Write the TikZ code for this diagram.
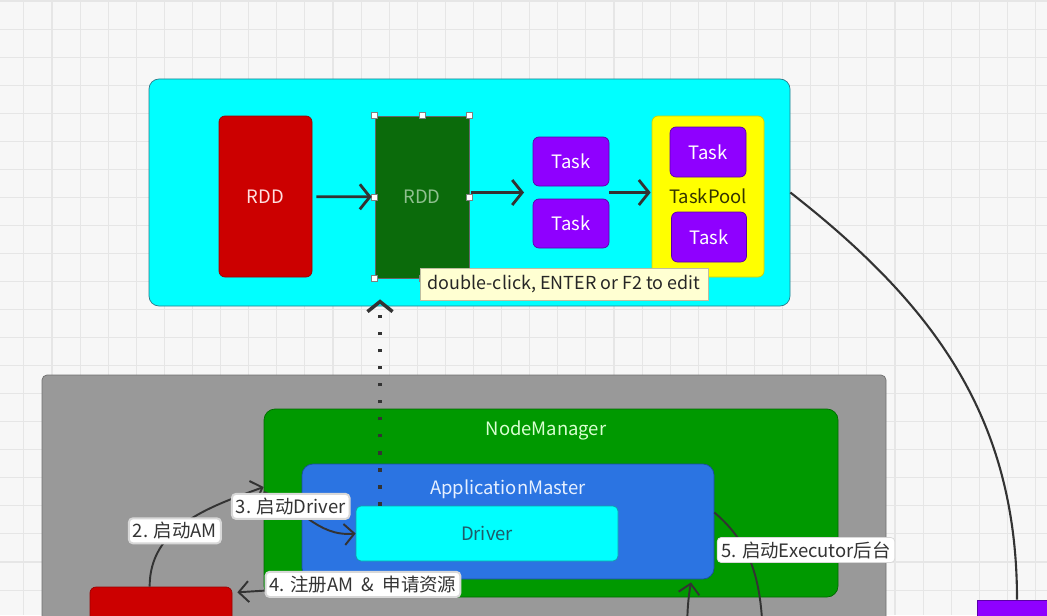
\documentclass[tikz,border=0pt]{standalone}
\usepackage{fontspec}
\setmainfont{Noto Sans CJK SC}
\usetikzlibrary{arrows.meta}
\definecolor{bggray}{HTML}{F7F7F7}
\definecolor{gridgray}{HTML}{E6E6E6}
\definecolor{stagecyan}{HTML}{00FFFF}
\definecolor{stageedge}{HTML}{2A7A8A}
\definecolor{rddred}{HTML}{CC0000}
\definecolor{rddedge}{HTML}{9A0000}
\definecolor{rddtext}{HTML}{FFE0E0}
\definecolor{rddgreen}{HTML}{0B6B0B}
\definecolor{rddgtext}{HTML}{8FC08F}
\definecolor{taskpurple}{HTML}{8F00FF}
\definecolor{taskedge}{HTML}{5A00A8}
\definecolor{poolyellow}{HTML}{FFFF00}
\definecolor{pooledge}{HTML}{D0D000}
\definecolor{pooltext}{HTML}{333300}
\definecolor{tipyellow}{HTML}{FFFFD2}
\definecolor{tipedge}{HTML}{BDBDA0}
\definecolor{clustergray}{HTML}{999999}
\definecolor{clusteredge}{HTML}{707070}
\definecolor{nmgreen}{HTML}{009900}
\definecolor{nmedge}{HTML}{006A00}
\definecolor{nmtext}{HTML}{D8FFD0}
\definecolor{amblue}{HTML}{2B74E2}
\definecolor{amedge}{HTML}{1A4E9E}
\definecolor{amtext}{HTML}{E6F0FF}
\definecolor{driveredge}{HTML}{12A0A8}
\definecolor{drivertext}{HTML}{1F5A68}
\definecolor{linegray}{HTML}{333333}
\definecolor{lblgray}{HTML}{D8D8D8}
\definecolor{textgray}{HTML}{333333}

\begin{document}
\begin{tikzpicture}[x=0.02cm,y=-0.02cm,
  box/.style 2 args={draw, rounded corners=0.12cm, inner sep=0pt,
    minimum width=#1*0.02cm, minimum height=#2*0.02cm, font=\fontsize{10.5}{12}\selectfont},
  flow/.style={draw=linegray, line width=1.6pt, -{Straight Barb[length=0.2cm,width=0.5cm]}},
  link/.style={draw=linegray, line width=1.1pt, -{Straight Barb[length=0.2cm,width=0.42cm]}},
  dotline/.style={draw=linegray, line width=2pt, dash pattern=on 2pt off 7.7pt,
    -{Straight Barb[length=0.2cm,width=0.5cm]}},
  lbl/.style={fill=white, draw=lblgray, rounded corners=0.08cm, inner sep=0.08cm,
    text=textgray, font=\fontsize{10.5}{12}\selectfont},
  handle/.style={draw=gray, fill=white, minimum size=0.12cm, inner sep=0pt},
  title/.style={font=\fontsize{10.5}{12}\selectfont}]

% background grid
\useasboundingbox (0,0) rectangle (1047,615);
\clip (0,0) rectangle (1047,615);
\fill[bggray] (0,0) rectangle (1047,615);
\foreach \i in {0,...,37}
  \draw[gridgray, line width=0.6pt] (23.9+\i*28.1,0) -- (23.9+\i*28.1,615);
\foreach \i in {0,...,22}
  \draw[gridgray, line width=0.6pt] (0,1+\i*28.05) -- (1047,1+\i*28.05);

% stage with RDDs and tasks
\node[box={641}{227}, fill=stagecyan, draw=stageedge, rounded corners=0.2cm] (stage) at (469.5,192.5) {};
\node[box={93}{161}, fill=rddred, draw=rddedge, text=rddtext] (rdd1) at (265.5,196.5) {RDD};
\node[box={94}{162}, fill=rddgreen, draw=black!60, rounded corners=0pt, text=rddgtext] (rdd2) at (422,197) {RDD};
\node[box={76}{49}, fill=taskpurple, draw=taskedge, text=white] (task1) at (571,161.5) {Task};
\node[box={76}{49}, fill=taskpurple, draw=taskedge, text=white] (task2) at (571,223.5) {Task};
\node[box={112}{161}, fill=poolyellow, draw=pooledge, text=pooltext] (pool) at (708,196.5) {TaskPool};
\node[box={76}{50}, fill=taskpurple, draw=taskedge, text=white] (ptask1) at (708,152) {Task};
\node[box={75}{50}, fill=taskpurple, draw=taskedge, text=white] (ptask2) at (709,237) {Task};
\foreach \a/\n in {north west/1, north/2, north east/3, west/4, east/5, south west/6, south/7, south east/8}
  \node[handle] (h\n) at (rdd2.\a) {};

\coordinate (gap) at (533,192.5);
\draw[flow, shorten <=0.08cm, shorten >=0.06cm] (rdd1) -- (rdd2);
\draw[flow, shorten <=0.04cm, shorten >=0.18cm] (rdd2.east |- gap) -- (gap);
\draw[flow, shorten >=0.02cm] (gap -| task1.east) -- (gap -| pool.west);

\node[draw=tipedge, fill=tipyellow, minimum width=288*0.02cm, minimum height=32*0.02cm,
  inner sep=0pt, text=black!85, font=\fontsize{10.2}{12}\selectfont] (tip) at (564,284) {double-click, ENTER or F2 to edit};

% executor at the right edge
\node[box={80}{40}, fill=taskpurple, draw=taskedge, rounded corners=0pt] (exec) at (1017,620) {};
\draw[linegray, line width=1.2pt] (stage.east) to[out=-38, in=90] (exec.north);

% yarn cluster
\node[box={844}{330}, fill=clustergray, draw=clusteredge, rounded corners=0.1cm] (cluster) at (464,540) {};
\node[box={574}{188}, fill=nmgreen, draw=nmedge, rounded corners=0.22cm] (nm) at (551,503) {};
\node[title, text=nmtext] (nmtitle) at (546,430) {NodeManager};
\node[box={412}{115}, fill=amblue, draw=amedge, rounded corners=0.22cm] (am) at (508,521.5) {};
\node[title, text=amtext] (amtitle) at (508,489) {ApplicationMaster};
\node[box={262}{55}, fill=stagecyan, draw=driveredge, rounded corners=0.1cm, text=drivertext] (driver) at (487,533.5) {Driver};
\node[box={142}{100}, fill=rddred, draw=rddedge] (rm) at (161,637) {};

\coordinate (dtop) at ([xshift=-2.14cm]driver.north);
\draw[dotline, shorten >=-0.14cm] (dtop) -- (dtop |- stage.south);

\draw[link] ([xshift=1.2cm]rm.north west) to[out=90, in=200]
  node[lbl, pos=0.41] (l2) {2. 启动AM} ([yshift=0.32cm]nm.west);
\draw[link] ([yshift=0.22cm]nm.west) to[out=-20, in=185]
  node[lbl, pos=0.28] (l3) {3. 启动Driver} (driver.west);
\draw[link, shorten >=0.1cm] ([xshift=-1.3cm]am.south) to
  node[lbl, pos=0.38] (l4) {4. 注册AM ~\&~ 申请资源} ([yshift=-0.12cm]rm.north east);

\coordinate (execbelow) at (766,700);
\draw[link] ([yshift=0.18cm]am.east) to[out=-40, in=95] (execbelow);
\node[lbl] (l5) at (806,550) {5. 启动Executor后台};

\coordinate (upstart) at (684,700);
\draw[link] (upstart) to[out=80, in=-100] ([xshift=3.66cm,yshift=-0.06cm]am.south);
\end{tikzpicture}
\end{document}
